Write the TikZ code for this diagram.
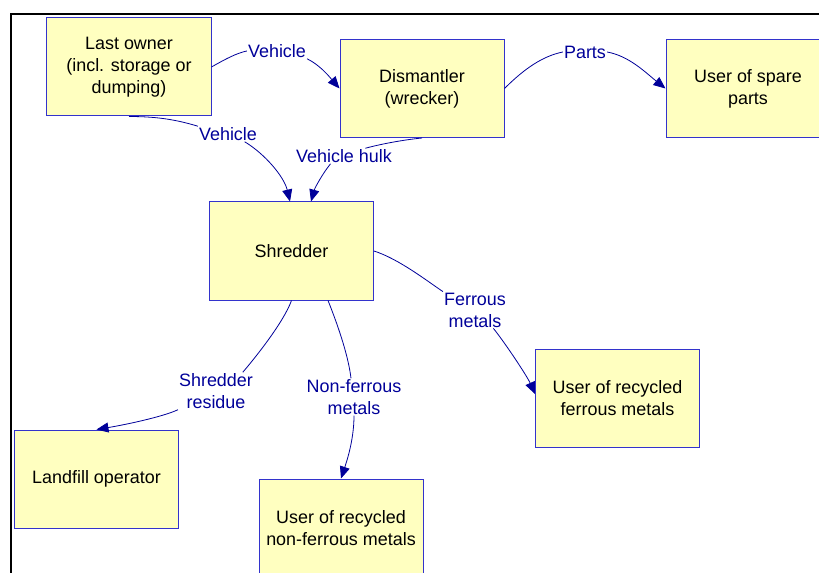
\documentclass[tikz,border=0pt]{standalone}
\usepackage{fontspec}
\setmainfont{Liberation Sans}
\usetikzlibrary{arrows.meta}
\definecolor{boxfill}{HTML}{FFFFC0}
\definecolor{boxline}{HTML}{3333CC}
\definecolor{flow}{HTML}{000099}
\tikzset{
  actor/.style={draw=boxline,fill=boxfill,line width=1bp,minimum width=164bp,minimum height=98bp,
    align=center,inner sep=0pt,font=\fontsize{18}{22}\selectfont},
  flowlbl/.style={text=flow,align=center,inner sep=1bp,font=\fontsize{18}{22}\selectfont},
  flowline/.style={draw=flow,line width=0.8bp},
  flowarrow/.style={flowline,-{Triangle[length=12bp,width=10bp]}}
}

\begin{document}
\begin{tikzpicture}[x=1bp,y=-1bp]
\useasboundingbox (0,0) rectangle (819,573);
\clip (0,0) rectangle (819,573);
\draw[line width=2bp] (11,600) -- (11,14) -- (840,14);

\node[actor] (owner) at (129,67) {Last owner\\(incl. storage or\\dumping)};
\node[actor] (dism) at (422,88.5) {Dismantler\\(wrecker)};
\node[actor] (spare) at (748,88.5) {User of spare\\parts};
\node[actor] (shred) at (291.5,251) {Shredder};
\node[actor] (fer) at (617.5,398) {User of recycled\\ferrous metals};
\node[actor] (landfill) at (96.5,479) {Landfill operator};
\node[actor] (nonfer) at (341,528) {User of recycled\\non-ferrous metals};

\node[flowlbl] (lblA) at (277,51) {Vehicle};
\node[flowlbl] (lblB) at (228,134) {Vehicle};
\node[flowlbl] (lblC) at (344,156) {Vehicle hulk};
\node[flowlbl] (lblD) at (585,52) {Parts};
\node[flowlbl] (lblE) at (475,310) {Ferrous\\metals};
\node[flowlbl] (lblF) at (216,391) {Shredder\\residue};
\node[flowlbl] (lblG) at (354,397) {Non-ferrous\\metals};

\draw[flowline] (owner.east) .. controls +(14,-8) and +(-10,2) .. (lblA.west);
\draw[flowarrow] (lblA.south east) .. controls +(12,6) and +(-12,-14) .. (dism.west);

\draw[flowline] (owner.south) .. controls +(30,0) and +(-20,-6) .. (lblB.north west);
\draw[flowarrow] (lblB.-25) .. controls +(20,12) and +(-6,-25) .. ([xshift=-1.5bp]shred.north);

\draw[flowline] (dism.south) .. controls +(-20,2) and +(15,-4) .. (lblC.20);
\draw[flowarrow] (lblC.-150) .. controls +(-8,10) and +(4,-14) .. ([xshift=19.5bp]shred.north);

\draw[flowline] (dism.east) .. controls +(20,-20) and +(-20,4) .. (lblD.west);
\draw[flowarrow] (lblD.east) .. controls +(22,4) and +(-20,-16) .. (spare.west);

\draw[flowline] (shred.east) .. controls +(25,8) and +(-15,-10) .. (lblE.north west);
\draw[flowarrow] (lblE.-45) .. controls +(12,15) and +(-8,-18) .. ([yshift=4bp]fer.west);

\draw[flowline] (shred.south) .. controls +(-8,22) and +(12,-14) .. (lblF.35);
\draw[flowarrow] (lblF.south west) .. controls +(-15,7) and +(30,-5) .. (landfill.north);

\draw[flowline] ([xshift=36.5bp]shred.south) .. controls +(8,20) and +(-3,-25) .. ([xshift=-3bp]lblG.north);
\draw[flowarrow] (lblG.south) .. controls +(0,25) and +(5,-15) .. (nonfer.north);
\end{tikzpicture}
\end{document}
